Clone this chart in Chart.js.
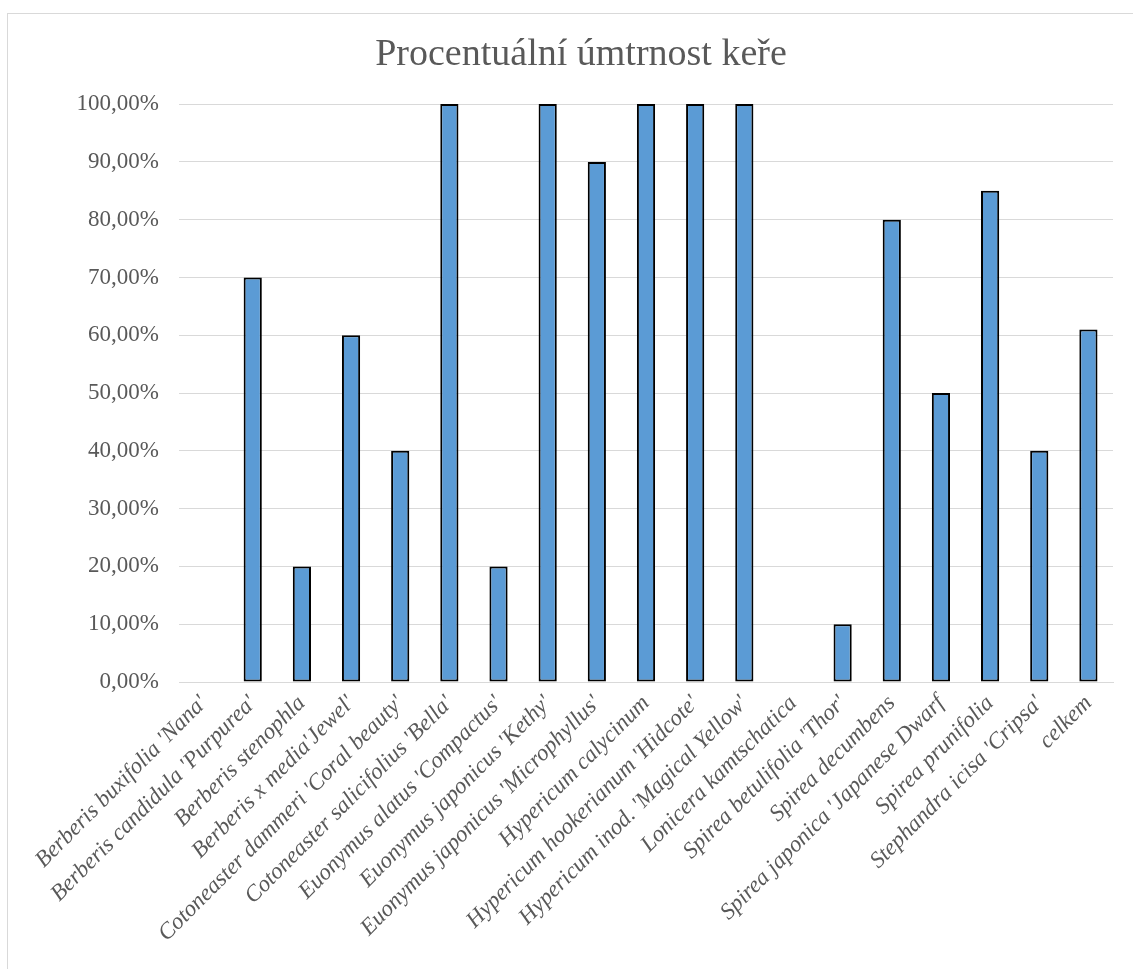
<!DOCTYPE html>
<html>
<head>
<meta charset="utf-8">
<script src="https://cdn.jsdelivr.net/npm/chart.js@4/dist/chart.umd.min.js"></script>
<style>
    body { margin: 0; background: #fff; overflow: hidden; }
    #frame {
        position: absolute;
        left: 7px;
        top: 13px;
        width: 1148px;
        height: 975px;
        border: 1px solid #d9d9d9;
        box-sizing: border-box;
    }
    #wrap { position: absolute; left: 0; top: 0; width: 1146px; height: 955px; }
</style>
</head>
<body>
<div id="frame">
    <div id="wrap"><canvas id="mortality"></canvas></div>
</div>
<script>
const shrubs = [
    "Berberis buxifolia 'Nana'",
    "Berberis candidula 'Purpurea'",
    "Berberis stenophla",
    "Berberis x media'Jewel'",
    "Cotoneaster dammeri 'Coral beauty'",
    "Cotoneaster salicifolius 'Bella'",
    "Euonymus alatus 'Compactus'",
    "Euonymus japonicus 'Kethy'",
    "Euonymus japonicus 'Microphyllus'",
    "Hypericum calycinum",
    "Hypericum hookerianum 'Hidcote'",
    "Hypericum inod. 'Magical Yellow'",
    "Lonicera kamtschatica",
    "Spirea betulifolia 'Thor'",
    "Spirea decumbens",
    "Spirea japonica 'Japanese Dwarf",
    "Spirea prunifolia",
    "Stephandra icisa 'Cripsa'",
    "celkem"
];

// mortality in percent
const mortality = [0, 70, 20, 60, 40, 100, 20, 100, 90, 100, 100, 100, 0, 10, 80, 50, 85, 40, 61];

const yTicks = [0, 10, 20, 30, 40, 50, 60, 70, 80, 90, 100];

const serif = "'Liberation Serif', 'Times New Roman', serif";
const textGray = '#595959';
const lineGray = '#d9d9d9';

const ctx = document.getElementById('mortality').getContext('2d');

new Chart(ctx, {
    type: 'bar',
    data: {
        labels: shrubs,
        datasets: [{
            label: 'Úmrtnost',
            data: mortality,
            backgroundColor: '#5b9bd5',
            borderColor: '#000000',
            borderWidth: 2,
            borderSkipped: false,
            categoryPercentage: 1,
            barPercentage: 0.37
        }]
    },
    options: {
        responsive: true,
        maintainAspectRatio: false,
        animation: false,
        layout: { padding: 0 },
        plugins: {
            legend: { display: false },
            tooltip: { enabled: false },
            title: {
                display: true,
                text: 'Procentuální úmtrnost keře',
                color: textGray,
                font: { family: serif, size: 38, weight: 'normal' },
                padding: { top: 18, bottom: 26.5 }
            }
        },
        scales: {
            x: {
                grid: { display: false, drawTicks: false },
                border: { display: true, color: lineGray, width: 1 },
                ticks: {
                    color: textGray,
                    font: { family: serif, size: 23, style: 'italic' },
                    minRotation: 45,
                    maxRotation: 45,
                    autoSkip: false,
                    padding: 8
                },
                afterFit: function (scale) { scale.height = 287; }
            },
            y: {
                min: 0,
                max: 100,
                afterBuildTicks: function (scale) {
                    scale.ticks = yTicks.map(v => ({ value: v }));
                },
                grid: { color: lineGray, lineWidth: 1, drawTicks: false },
                border: { display: false },
                ticks: {
                    color: textGray,
                    font: { family: serif, size: 23 },
                    padding: 20,
                    callback: v => v.toFixed(2).replace('.', ',') + '%'
                },
                afterFit: function (scale) { scale.width = 171; }
            },
            // empty right margin inside the frame
            yRight: {
                position: 'right',
                min: 0,
                max: 100,
                grid: { display: false, drawTicks: false },
                border: { display: false },
                ticks: { display: false },
                afterFit: function (scale) { scale.width = 41; }
            }
        }
    }
});
</script>
</body>
</html>
